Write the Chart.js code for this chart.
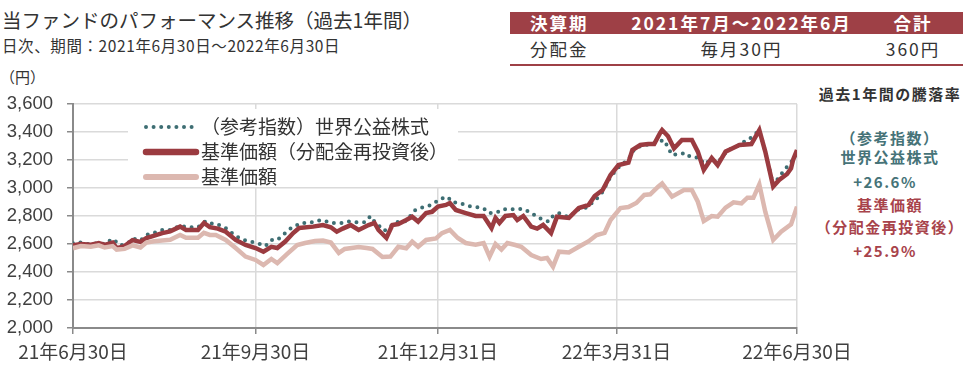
<!DOCTYPE html>
<html>
<head>
<meta charset="utf-8">
<title>当ファンドのパフォーマンス推移</title>
<script src="https://cdn.jsdelivr.net/npm/chart.js"></script>
<style>
  body { margin: 0; background: #fff; font-family: "Noto Sans CJK JP", sans-serif; color: #333; }
  #wrap { position: relative; width: 978px; height: 370px; overflow: hidden; }
  #chart { position: absolute; left: 0; top: 0; }
  .t { position: absolute; white-space: nowrap; line-height: 1; }
  #title { left: 2px; top: 10px; font-size: 19.5px; }
  #sub { left: 2px; top: 38px; font-size: 15.5px; letter-spacing: 0.6px; }
  #unit { left: 0; top: 69px; font-size: 15px; }
  #tbl { position: absolute; left: 510px; top: 12px; width: 453px; border-collapse: collapse; font-size: 17.5px; }
  #tbl td { padding: 0; height: 22px; line-height: 22px; letter-spacing: 2px; }
  #tbl tr.h td { background: #9e4046; color: #fff; font-weight: bold; }
  #tbl tr.b td { height: 27px; line-height: 30px; border-bottom: 2px solid #9e4046; }
  .side { position: absolute; left: 800px; width: 180px; text-align: center; font-size: 15px; letter-spacing: 1.5px; font-weight: bold; line-height: 1; }
</style>
</head>
<body>
<div id="wrap">
  <div class="t" id="title">当ファンドのパフォーマンス推移（過去1年間）</div>
  <div class="t" id="sub">日次、期間：2021年6月30日～2022年6月30日</div>
  <div class="t" id="unit">（円）</div>
  <table id="tbl">
    <tr class="h"><td style="padding-left:20px;width:90px">決算期</td><td style="text-align:center">2021年7月～2022年6月</td><td style="text-align:center;width:100px">合計</td></tr>
    <tr class="b"><td style="padding-left:20px">分配金</td><td style="text-align:center">毎月30円</td><td style="text-align:center">360円</td></tr>
  </table>
  <div class="side" style="top:86px;color:#333">過去1年間の騰落率</div>
  <div class="side" style="top:130px;color:#467378">（参考指数）</div>
  <div class="side" style="top:149px;color:#467378">世界公益株式</div>
  <div class="side" style="top:174px;color:#467378;left:795px">+26.6%</div>
  <div class="side" style="top:197px;color:#a8434b">基準価額</div>
  <div class="side" style="top:219px;color:#a8434b">（分配金再投資後）</div>
  <div class="side" style="top:243px;color:#a8434b;left:795px">+25.9%</div>
  <canvas id="chart" width="978" height="370"></canvas>
</div>
<script>
// days counted from 2021/6/30
const tickDays = [0, 92, 184, 274, 365];
const tickLabels = ['21年6月30日', '21年9月30日', '21年12月31日', '22年3月31日', '22年6月30日'];

// 参考指数 世界公益株式
const refDays = [0,3,7,13,16,20,24,28,30,34,38,41,45,49,54,58,63,67,71,73,77,80,84,88,93,97,100,103,107,110,115,119,123,126,130,136,139,142,147,150,152,157,163,167,169,172,177,181,185,189,191,195,200,203,207,210,214,217,219,222,227,230,236,240,242,245,250,255,259,266,271,276,280,282,286,290,293,298,302,309,311,316,318,322,325,330,334,343,346,349,353,358,361,364,365];
const refValues = [2605,2614,2600,2605,2600,2636,2590,2610,2640,2625,2671,2680,2700,2700,2730,2720,2720,2764,2740,2740,2714,2680,2640,2620,2607,2585,2628,2628,2678,2714,2750,2750,2767,2770,2750,2750,2760,2755,2755,2800,2760,2695,2757,2757,2780,2838,2867,2880,2921,2936,2900,2893,2870,2865,2855,2820,2828,2850,2845,2848,2850,2830,2779,2760,2800,2820,2790,2850,2860,2950,3080,3164,3200,3260,3300,3310,3320,3343,3236,3250,3224,3214,3170,3200,3180,3270,3293,3370,3414,3260,3020,3117,3170,3217,3250];

// 基準価額（分配金再投資後）
const reinvDays = [0,4,9,13,16,20,22,26,30,34,37,41,45,49,54,57,63,66,69,73,77,82,87,92,96,100,103,107,111,114,121,126,130,133,136,140,144,149,152,154,158,161,164,168,171,174,178,181,184,188,190,193,198,203,207,211,213,215,218,222,224,227,231,234,237,241,244,250,255,260,263,267,271,275,280,282,286,290,293,296,297,300,303,307,312,315,318,322,325,329,332,336,342,346,349,353,356,360,362,363,365];
const reinvValues = [2590,2600,2595,2607,2593,2610,2571,2585,2628,2615,2643,2660,2678,2690,2724,2700,2700,2750,2720,2710,2688,2629,2593,2571,2545,2580,2571,2617,2678,2714,2724,2735,2720,2688,2710,2735,2700,2735,2750,2700,2643,2736,2743,2771,2795,2760,2821,2830,2867,2879,2893,2843,2821,2800,2800,2714,2786,2750,2800,2807,2771,2800,2724,2710,2736,2678,2795,2786,2857,2880,2943,2986,3093,3164,3181,3271,3307,3314,3314,3393,3414,3370,3283,3343,3343,3260,3129,3214,3164,3260,3280,3307,3314,3414,3260,3010,3057,3100,3140,3200,3271];

// 基準価額
const navDays = [0,4,9,13,16,20,22,26,30,34,37,41,45,49,54,57,63,66,69,72,77,82,87,92,96,100,103,108,113,117,122,126,130,134,137,144,148,151,156,160,164,168,171,174,178,183,186,190,194,198,203,207,210,213,216,219,223,226,231,236,239,242,245,250,255,260,264,268,271,276,280,284,288,291,295,297,302,308,312,315,318,322,325,329,333,337,340,343,346,349,353,357,362,365];
const navValues = [2570,2585,2580,2590,2575,2585,2560,2565,2590,2575,2610,2620,2625,2630,2665,2645,2645,2680,2665,2664,2629,2571,2510,2486,2450,2493,2464,2530,2593,2607,2621,2625,2610,2536,2565,2579,2571,2565,2507,2510,2580,2570,2617,2580,2629,2640,2678,2700,2643,2607,2595,2607,2510,2600,2560,2607,2593,2580,2521,2493,2500,2438,2545,2540,2580,2620,2664,2680,2771,2857,2864,2893,2950,2955,3010,3033,2938,2986,2986,2902,2764,2800,2795,2860,2898,2890,2931,2930,3026,2831,2629,2688,2740,2867];

const yMin = 2000, yMax = 3600, yStep = 200;

const pts = (xs, ys) => xs.map((d, i) => ({ x: d, y: ys[i] }));

// legend in a white box inside the plot area
const boxLegend = {
  id: 'boxLegend',
  beforeDatasetsDraw(chart) {
    const ctx = chart.ctx, a = chart.chartArea;
    const x0 = a.left + 55, y0 = a.top + 5;
    ctx.save();
    ctx.fillStyle = '#fff';
    ctx.fillRect(x0, y0, 330, 78);
    const order = [2, 1, 0];
    order.forEach((di, row) => {
      const ds = chart.data.datasets[di];
      const y = y0 + 18 + row * 25;
      ctx.beginPath();
      ctx.strokeStyle = ds.borderColor;
      ctx.lineWidth = ds.legendWidth;
      ctx.lineCap = 'round';
      ctx.setLineDash(ds.borderDash || []);
      ctx.moveTo(x0 + 18, y);
      ctx.lineTo(x0 + 68, y);
      ctx.stroke();
      ctx.setLineDash([]);
      ctx.fillStyle = '#333';
      ctx.font = '19px "Noto Sans CJK JP"';
      ctx.textBaseline = 'middle';
      ctx.fillText(ds.label, x0 + 73, y);
    });
    ctx.restore();
  }
};

new Chart(document.getElementById('chart'), {
  type: 'line',
  data: {
    datasets: [
      { label: '基準価額', data: pts(navDays, navValues), borderColor: '#dcb8b0', borderWidth: 4.5, legendWidth: 6, pointRadius: 0, tension: 0 },
      { label: '基準価額（分配金再投資後）', data: pts(reinvDays, reinvValues), borderColor: '#9b3b40', borderWidth: 4.5, legendWidth: 6.5, pointRadius: 0, tension: 0 },
      { label: '（参考指数）世界公益株式', data: pts(refDays, refValues), borderColor: '#3e6e73', borderWidth: 4, legendWidth: 4, borderDash: [0, 7.6], borderCapStyle: 'round', pointRadius: 0, tension: 0 }
    ]
  },
  options: {
    responsive: false,
    animation: false,
    parsing: false,
    layout: { padding: { left: 0, right: 181, top: 104, bottom: 0 } },
    plugins: { legend: { display: false }, tooltip: { enabled: false } },
    scales: {
      x: {
        type: 'linear', min: 0, max: 365,
        afterBuildTicks: s => { s.ticks = tickDays.map(v => ({ value: v })); },
        afterFit: s => { s.height = 42; },
        ticks: {
          autoSkip: false, maxRotation: 0, padding: 6,
          color: '#404040', font: { family: '"Noto Sans CJK JP"', size: 19 },
          callback: v => tickLabels[tickDays.indexOf(v)]
        },
        grid: { color: '#dadada', lineWidth: 1.5, tickLength: 6, tickColor: '#8a8a8a' },
        border: { color: '#8a8a8a', width: 2 }
      },
      y: {
        min: yMin, max: yMax,
        afterFit: s => { s.width = 73; },
        ticks: {
          stepSize: yStep, padding: 14,
          color: '#404040', font: { family: '"Liberation Sans"', size: 18.5 },
          callback: v => v.toLocaleString('en-US')
        },
        grid: { color: '#dadada', lineWidth: 1.5, tickLength: 6, tickColor: '#8a8a8a' },
        border: { color: '#8a8a8a', width: 2 }
      }
    }
  },
  plugins: [boxLegend]
});
</script>
</body>
</html>
